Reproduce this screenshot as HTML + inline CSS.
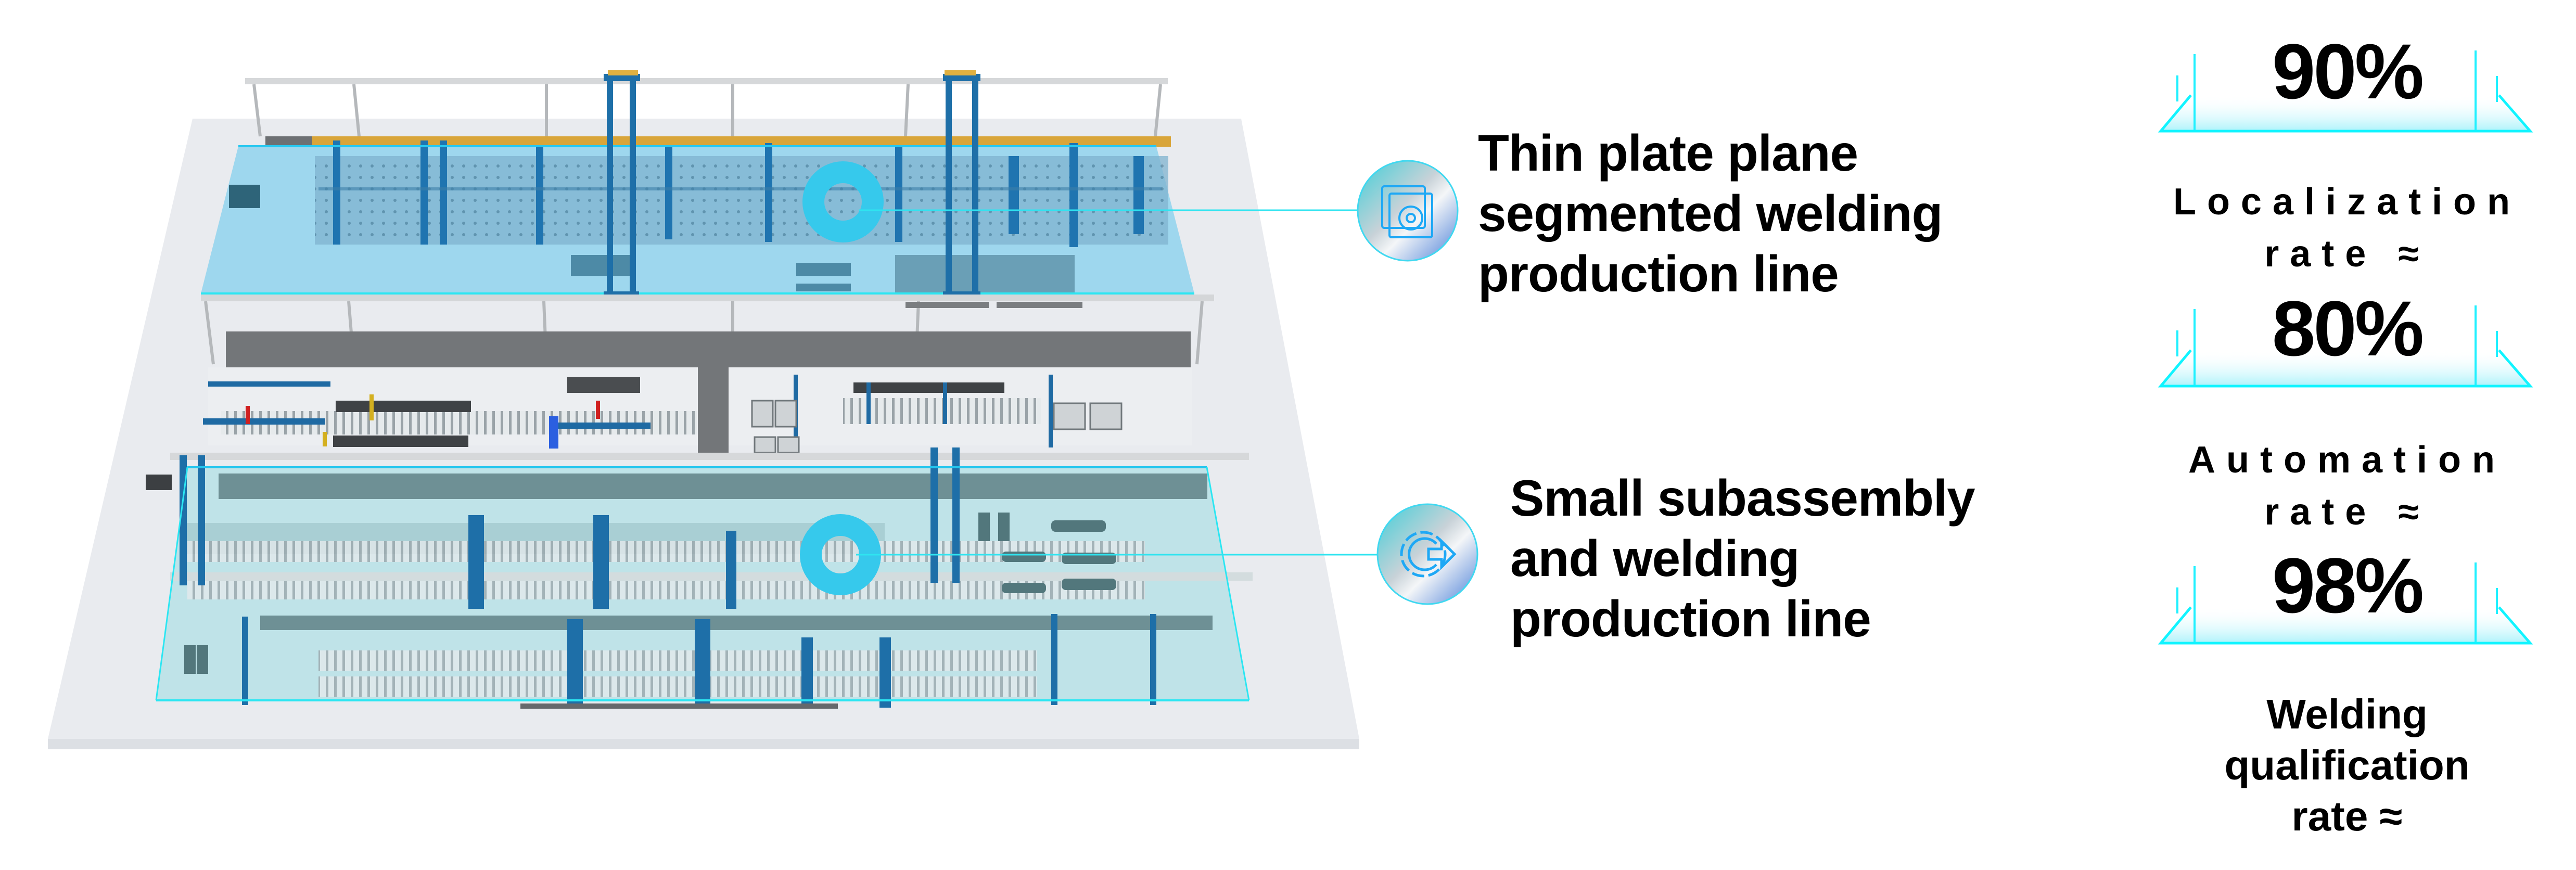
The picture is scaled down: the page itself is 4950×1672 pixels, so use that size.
<!DOCTYPE html>
<html><head><meta charset="utf-8">
<style>
html,body{margin:0;padding:0;background:#fff;}
body{width:4950px;height:1672px;position:relative;overflow:hidden;font-family:"Liberation Sans",sans-serif;}
svg{position:absolute;left:0;top:0;}
.t{position:absolute;font-weight:bold;color:#000;font-size:98px;line-height:116px;letter-spacing:-1px;}
.num{position:absolute;font-weight:bold;font-size:150px;line-height:150px;text-align:center;width:720px;left:4150px;letter-spacing:-4px;}
.lab{position:absolute;font-weight:bold;font-size:72px;line-height:100px;text-align:center;width:800px;left:4110px;letter-spacing:21px;}
.lab2{position:absolute;font-weight:bold;font-size:80px;line-height:98px;text-align:center;width:800px;left:4110px;}
</style></head><body>
<svg width="4950" height="1672" viewBox="0 0 4950 1672">
<defs>
<linearGradient id="plat" x1="0" y1="0" x2="0" y2="1">
<stop offset="0" stop-color="#ffffff" stop-opacity="0"/><stop offset="1" stop-color="#aef3fb"/></linearGradient>
<linearGradient id="ic2" x1="0" y1="0" x2="1" y2="1">
<stop offset="0" stop-color="#3fcfd8"/><stop offset="0.45" stop-color="#c8d2d8"/><stop offset="0.6" stop-color="#f4f6f8"/><stop offset="1" stop-color="#4a7fd8"/></linearGradient>
<pattern id="roll" width="16" height="60" patternUnits="userSpaceOnUse"><rect width="16" height="60" fill="#e6eaec"/><rect x="2" width="5" height="60" fill="#9aa3a8"/></pattern>
<pattern id="dots" width="22" height="22" patternUnits="userSpaceOnUse"><rect width="22" height="22" fill="#7fb3cf"/><circle cx="11" cy="11" r="3" fill="#4c7e9a"/></pattern>
</defs>
<polygon points="370,228 2385,228 2612,1420 92,1420" fill="#e9ebef"/>
<polygon points="92,1420 2612,1420 2612,1440 92,1440" fill="#dcdfe4"/>
<rect x="471" y="150" width="1773" height="12" fill="#d6d8da"/>
<g stroke="#b5b8bb" stroke-width="6">
<line x1="488" y1="162" x2="500" y2="262"/><line x1="680" y1="162" x2="690" y2="262"/><line x1="1050" y1="162" x2="1050" y2="262"/><line x1="1408" y1="162" x2="1408" y2="262"/><line x1="1745" y1="162" x2="1740" y2="262"/><line x1="2230" y1="162" x2="2220" y2="262"/></g>
<rect x="510" y="262" width="100" height="18" fill="#6d7073"/>
<rect x="600" y="262" width="1650" height="20" fill="#d9a53a"/>
<polygon points="458,281 2222,281 2295,564 386,564" fill="#9ed7ee"/>
<rect x="605" y="300" width="1640" height="170" fill="url(#dots)" opacity="0.75"/>
<g fill="#1f74b0">
<rect x="640" y="270" width="14" height="200"/><rect x="808" y="270" width="14" height="200"/><rect x="845" y="270" width="14" height="200"/><rect x="1030" y="280" width="14" height="190"/><rect x="1278" y="280" width="14" height="180"/><rect x="1470" y="275" width="14" height="190"/><rect x="1720" y="280" width="14" height="185"/><rect x="1938" y="300" width="20" height="150"/><rect x="2055" y="275" width="16" height="200"/><rect x="2178" y="300" width="20" height="150"/>
</g>
<rect x="612" y="360" width="1620" height="6" fill="#3c7fa8" opacity="0.6"/>
<rect x="440" y="355" width="60" height="45" fill="#2e6479"/>
<rect x="1097" y="490" width="115" height="40" fill="#4d8aa6"/>
<rect x="1530" y="505" width="105" height="25" fill="#4d8aa6"/><rect x="1530" y="545" width="105" height="15" fill="#4d8aa6"/>
<rect x="1720" y="490" width="345" height="74" fill="#6a9fb6"/>
<line x1="458" y1="281" x2="2222" y2="281" stroke="#27c8f0" stroke-width="4"/>
<line x1="386" y1="564" x2="2295" y2="564" stroke="#2be6f2" stroke-width="4"/>
<g fill="#1e6fa8">
<rect x="1166" y="150" width="12" height="425"/><rect x="1210" y="150" width="12" height="425"/><rect x="1160" y="142" width="70" height="14"/><rect x="1160" y="560" width="68" height="16"/>
<rect x="1817" y="150" width="12" height="425"/><rect x="1868" y="150" width="12" height="425"/><rect x="1812" y="142" width="72" height="14"/><rect x="1812" y="560" width="72" height="16"/>
</g>
<rect x="1168" y="135" width="58" height="10" fill="#e0b040"/><rect x="1815" y="135" width="60" height="10" fill="#e0b040"/>
<rect x="386" y="566" width="1947" height="13" fill="#d4d6d8"/>
<g stroke="#b5b8bb" stroke-width="6"><line x1="395" y1="579" x2="410" y2="700"/><line x1="670" y1="579" x2="680" y2="700"/><line x1="1045" y1="579" x2="1050" y2="700"/><line x1="1408" y1="579" x2="1408" y2="700"/><line x1="1765" y1="579" x2="1760" y2="700"/><line x1="2310" y1="579" x2="2300" y2="700"/></g>
<rect x="1740" y="580" width="160" height="12" fill="#7a7d80"/><rect x="1915" y="580" width="165" height="12" fill="#7a7d80"/>
<rect x="434" y="637" width="1854" height="69" fill="#737679"/>
<rect x="1341" y="700" width="59" height="170" fill="#737679"/>
<rect x="400" y="706" width="941" height="150" fill="#eceef1"/>
<rect x="1400" y="706" width="890" height="150" fill="#eceef1"/>
<rect x="425" y="790" width="630" height="45" fill="url(#roll)"/>
<rect x="1040" y="790" width="300" height="45" fill="url(#roll)"/>
<rect x="1620" y="765" width="380" height="50" fill="url(#roll)"/>
<rect x="645" y="770" width="260" height="22" fill="#3f4245"/><rect x="640" y="837" width="260" height="22" fill="#3f4245"/>
<rect x="710" y="758" width="8" height="50" fill="#d4b020"/><rect x="620" y="830" width="8" height="28" fill="#d4b020"/>
<rect x="400" y="733" width="235" height="10" fill="#1f6aa3"/><rect x="390" y="804" width="235" height="12" fill="#1f6aa3"/>
<rect x="1070" y="812" width="180" height="12" fill="#1f6aa3"/><rect x="1055" y="800" width="18" height="62" fill="#2b5fe0"/>
<rect x="1090" y="725" width="140" height="30" fill="#4a4d50"/>
<rect x="472" y="780" width="8" height="35" fill="#d02020"/><rect x="1145" y="770" width="8" height="35" fill="#d02020"/>
<rect x="1640" y="735" width="290" height="20" fill="#3f4245"/>
<g fill="#1f6aa3"><rect x="1525" y="720" width="8" height="145"/><rect x="1665" y="735" width="8" height="80"/><rect x="1812" y="735" width="8" height="80"/><rect x="2015" y="720" width="8" height="140"/></g>
<g fill="#cfd3d6" stroke="#70777b" stroke-width="3"><rect x="1445" y="770" width="40" height="50"/><rect x="1490" y="770" width="40" height="50"/><rect x="2025" y="775" width="60" height="50"/><rect x="2095" y="775" width="60" height="50"/><rect x="1450" y="840" width="40" height="30"/><rect x="1495" y="840" width="40" height="30"/></g>
<rect x="327" y="870" width="2073" height="14" fill="#d6d8da"/>
<rect x="280" y="912" width="50" height="30" fill="#3c3f42"/>
<polygon points="360,898 2319,898 2400,1346 300,1346" fill="#bfe3e8"/>
<rect x="420" y="910" width="1900" height="49" fill="#6e9095"/>
<rect x="500" y="1183" width="1830" height="28" fill="#6e9095"/>
<rect x="350" y="1005" width="1350" height="60" fill="#a9cfd4"/>
<rect x="360" y="1040" width="1840" height="40" fill="url(#roll)" opacity="0.75"/>
<rect x="360" y="1117" width="1840" height="35" fill="url(#roll)" opacity="0.75"/>
<rect x="612" y="1250" width="1380" height="40" fill="url(#roll)" opacity="0.75"/>
<rect x="612" y="1300" width="1380" height="40" fill="url(#roll)" opacity="0.75"/>
<rect x="327" y="1100" width="2080" height="16" fill="#d3dcde"/>
<g fill="#1e6fa8">
<rect x="345" y="875" width="14" height="250"/><rect x="380" y="875" width="14" height="250"/>
<rect x="1788" y="860" width="14" height="260"/><rect x="1830" y="860" width="14" height="260"/>
<rect x="900" y="990" width="30" height="180"/><rect x="1140" y="990" width="30" height="180"/><rect x="1395" y="1020" width="20" height="150"/>
<rect x="1090" y="1190" width="30" height="170"/><rect x="1335" y="1190" width="30" height="170"/><rect x="1540" y="1225" width="22" height="135"/><rect x="1690" y="1225" width="22" height="135"/>
<rect x="465" y="1185" width="12" height="170"/><rect x="2020" y="1180" width="12" height="175"/><rect x="2210" y="1180" width="12" height="175"/>
</g>
<g fill="#52777c"><rect x="1880" y="985" width="22" height="55"/><rect x="1918" y="985" width="22" height="55"/><rect x="354" y="1240" width="22" height="55"/><rect x="378" y="1240" width="22" height="55"/>
<rect x="2020" y="1000" width="105" height="22" rx="8"/><rect x="2040" y="1062" width="105" height="22" rx="8"/><rect x="2040" y="1112" width="105" height="22" rx="8"/><rect x="1925" y="1060" width="85" height="20" rx="8"/><rect x="1925" y="1120" width="85" height="20" rx="8"/></g>
<line x1="360" y1="898" x2="2319" y2="898" stroke="#22c5ee" stroke-width="4"/>
<line x1="2319" y1="898" x2="2400" y2="1346" stroke="#2be6f2" stroke-width="3"/>
<line x1="360" y1="898" x2="300" y2="1346" stroke="#2be6f2" stroke-width="3"/>
<line x1="300" y1="1346" x2="2400" y2="1346" stroke="#2be6f2" stroke-width="4"/>
<rect x="1000" y="1352" width="610" height="10" fill="#65696c"/>
<circle cx="1620" cy="388" r="57" fill="none" stroke="#36c9ec" stroke-width="42"/>
<circle cx="1615" cy="1066" r="57" fill="none" stroke="#36c9ec" stroke-width="42"/>
<line x1="1650" y1="404" x2="2612" y2="404" stroke="#2fe4f0" stroke-width="3"/>
<line x1="1645" y1="1066" x2="2650" y2="1066" stroke="#2fe4f0" stroke-width="3"/>
<circle cx="2705" cy="405" r="96" fill="url(#ic2)" stroke="#40d8f0" stroke-width="3"/>
<g fill="none" stroke="#1ea8f5" stroke-width="4"><rect x="2656" y="358" width="82" height="80" rx="4"/><rect x="2670" y="372" width="82" height="84" rx="4"/><circle cx="2711" cy="419" r="22"/><circle cx="2711" cy="419" r="8"/></g>
<circle cx="2743" cy="1065" r="96" fill="url(#ic2)" stroke="#40d8f0" stroke-width="3"/>
<g fill="none" stroke="#1ea8f5" stroke-width="5"><circle cx="2735" cy="1065" r="42" stroke-dasharray="24 8"/><path d="M2760,1045 a30,30 0 1 0 0,40"/><path d="M2745,1055 h25 v-15 l25,25 l-25,25 v-15 h-25z"/></g>
<g>
<polygon points="4210,183 4802,183 4862,252 4152,252" fill="url(#plat)"/>
<polyline points="4210,183 4152,252 4862,252 4802,183" fill="none" stroke="#10f4ff" stroke-width="5"/>
<g stroke="#20f0ff" stroke-width="4"><line x1="4217" y1="104" x2="4217" y2="250"/><line x1="4184" y1="145" x2="4184" y2="195"/><line x1="4757" y1="97" x2="4757" y2="250"/><line x1="4798" y1="146" x2="4798" y2="196"/></g>
</g>
<g transform="translate(0,490)">
<polygon points="4210,183 4802,183 4862,252 4152,252" fill="url(#plat)"/>
<polyline points="4210,183 4152,252 4862,252 4802,183" fill="none" stroke="#10f4ff" stroke-width="5"/>
<g stroke="#20f0ff" stroke-width="4"><line x1="4217" y1="104" x2="4217" y2="250"/><line x1="4184" y1="145" x2="4184" y2="195"/><line x1="4757" y1="97" x2="4757" y2="250"/><line x1="4798" y1="146" x2="4798" y2="196"/></g>
</g>
<g transform="translate(0,984)">
<polygon points="4210,183 4802,183 4862,252 4152,252" fill="url(#plat)"/>
<polyline points="4210,183 4152,252 4862,252 4802,183" fill="none" stroke="#10f4ff" stroke-width="5"/>
<g stroke="#20f0ff" stroke-width="4"><line x1="4217" y1="104" x2="4217" y2="250"/><line x1="4184" y1="145" x2="4184" y2="195"/><line x1="4757" y1="97" x2="4757" y2="250"/><line x1="4798" y1="146" x2="4798" y2="196"/></g>
</g>
</svg>
<div class="t" style="left:2840px;top:236px;">Thin plate plane<br>segmented welding<br>production line</div>
<div class="t" style="left:2902px;top:899px;">Small subassembly<br>and welding<br>production line</div>
<div class="num" style="top:62px;">90%</div>
<div class="lab" style="top:338px;">Localization<br>rate ≈</div>
<div class="num" style="top:556px;">80%</div>
<div class="lab" style="top:834px;">Automation<br>rate ≈</div>
<div class="num" style="top:1050px;">98%</div>
<div class="lab2" style="top:1324px;">Welding<br>qualification<br>rate ≈</div>
</body></html>
